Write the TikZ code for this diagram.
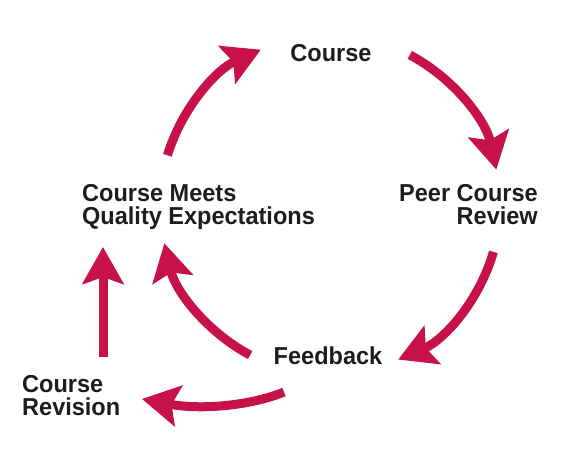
\documentclass[tikz,border=0pt]{standalone}
\usepackage{fontspec}
\setmainfont{Liberation Sans}[FakeStretch=0.96]
\usetikzlibrary{arrows.meta}
\definecolor{cyclered}{RGB}{198,18,72}
\definecolor{textdark}{RGB}{30,28,30}
\begin{document}
\begin{tikzpicture}[x=1pt,y=-1pt,
  lbl/.style={font=\fontsize{24.5}{22.5}\selectfont\bfseries, text=textdark, inner sep=0pt},
  cyc/.style={draw=cyclered, line width=9pt,
    -{Stealth[length=37pt,width=41pt,inset=7pt,fill=cyclered]}}]
\useasboundingbox (0,0) rectangle (574,453);
\coordinate (c) at (330,205);
% labels
\node[lbl, anchor=base] (course) at (331,61) {Course};
\node[lbl, anchor=base east, align=right] (peer) at (538,224) {Peer Course\\Review};
\node[lbl, anchor=base west, align=left] (meets) at (82,224) {Course Meets\\Quality Expectations};
\node[lbl, anchor=base] (feedback) at (328,364) {Feedback};
\node[lbl, anchor=base west, align=left] (revision) at (22,415) {Course\\Revision};
% cycle arrows (arcs of one circle round c)
\path (c) ++(-163:170) coordinate (a1s);
\path (c) ++(-62:170) coordinate (a2s);
\path (c) ++(16:170) coordinate (a3s);
\path (c) ++(118:170) coordinate (a4s);
\draw[cyc] (a1s) arc[start angle=-163, end angle=-114, radius=170];
\draw[cyc] (a2s) arc[start angle=-62, end angle=-12, radius=170];
\draw[cyc] (a3s) arc[start angle=16, end angle=67, radius=167];
\draw[cyc] (a4s) arc[start angle=118, end angle=167, radius=170];
% revision loop
\coordinate (f1) at (284,392);
\coordinate (r1) at (142,399);
\draw[cyc] (f1) .. controls (250,406) and (200,410) .. (r1);
\coordinate (r2) at (103,357);
\coordinate (m1) at (103,247);
\draw[cyc] (r2) -- (m1);
\end{tikzpicture}
\end{document}
